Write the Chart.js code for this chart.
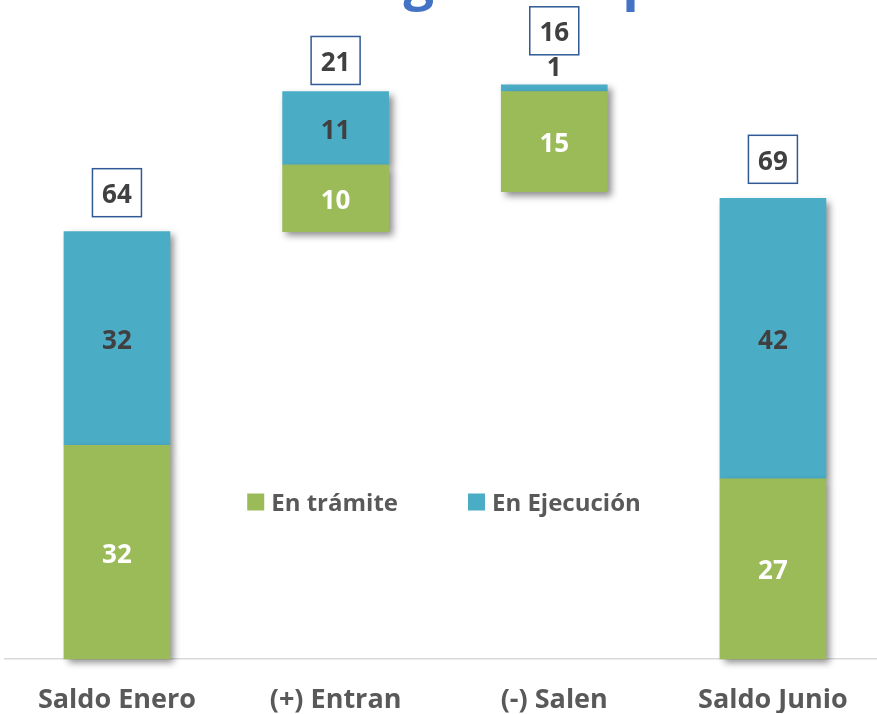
<!DOCTYPE html>
<html lang="es">
<head>
<meta charset="utf-8">
<title>Expedientes</title>
<script src="https://cdn.jsdelivr.net/npm/chart.js@4.4.1/dist/chart.umd.min.js"></script>
<style>
  html, body { margin: 0; padding: 0; background: #fff; overflow: hidden; }
</style>
</head>
<body>
<canvas id="chart" width="877" height="714"></canvas>
<script>
// --- DATA ---
const categories = ['Saldo Enero', '(+) Entran', '(-) Salen', 'Saldo Junio'];
const enTramite = [32, 10, 15, 27];
const enEjecucion = [32, 11, 1, 42];
const totals = [64, 21, 16, 69];
const bases = [0, 64, 70, 0]; // floating start of each column
const seriesNames = ['En trámite', 'En Ejecución'];
const titleText = 'Carga de Expedientes';

// --- STYLE ---
const GREEN = '#9BBB59', BLUE = '#4BACC6', DARK = '#404040', GREY = '#595959';
const FONT = "'Open Sans', 'DejaVu Sans', sans-serif";
const boxGap = [15, 7, 30, 15]; // space between column top and its total box
const TXT_NUDGE = 3; // canvas 'middle' sits digits a bit high

function segment(vals, offset) {
  return categories.map((c, i) => {
    const lo = bases[i] + (offset ? offset[i] : 0);
    return { x: i, y: [lo, lo + vals[i]] };
  });
}

// soft drop shadow under the columns
const barShadow = {
  id: 'barShadow',
  beforeDatasetsDraw(chart) {
    const c = chart.ctx;
    c.save();
    c.shadowColor = 'rgba(0,0,0,0.45)';
    c.shadowBlur = 7;
    c.shadowOffsetX = 4;
    c.shadowOffsetY = 4;
  },
  afterDatasetsDraw(chart) { chart.ctx.restore(); }
};

// values inside segments + total boxes on top
const barLabels = {
  id: 'barLabels',
  afterDatasetsDraw(chart) {
    const ctx = chart.ctx;
    ctx.save();
    ctx.font = `bold 26px ${FONT}`;
    ctx.textAlign = 'center';
    ctx.textBaseline = 'middle';
    const colTop = [];
    chart.data.datasets.forEach((ds, d) => {
      chart.getDatasetMeta(d).data.forEach((bar, i) => {
        const top = Math.min(bar.y, bar.base), bottom = Math.max(bar.y, bar.base);
        colTop[i] = colTop[i] === undefined ? top : Math.min(colTop[i], top);
        if (bottom - top >= 30) {
          ctx.fillStyle = ds.labelColor;
          ctx.fillText(ds.values[i], bar.x, (top + bottom) / 2 + TXT_NUDGE);
        } else {
          ctx.fillStyle = DARK;
          ctx.fillText(ds.values[i], bar.x, top - 16);
        }
      });
    });
    const meta = chart.getDatasetMeta(0);
    totals.forEach((t, i) => {
      const x = meta.data[i].x;
      const bw = 49, bh = 48;
      const by = colTop[i] - boxGap[i] - bh;
      ctx.fillStyle = '#fff';
      ctx.fillRect(x - bw / 2, by, bw, bh);
      ctx.strokeStyle = '#2F5A96';
      ctx.lineWidth = 1.5;
      ctx.strokeRect(x - bw / 2, by, bw, bh);
      ctx.fillStyle = DARK;
      ctx.fillText(t, x, by + bh / 2 + TXT_NUDGE);
    });
    ctx.restore();
  }
};

// legend sitting inside the plot + title cut at the top edge
const decor = {
  id: 'decor',
  afterDraw(chart) {
    const ctx = chart.ctx, area = chart.chartArea;
    ctx.save();
    ctx.font = `bold 24px ${FONT}`;
    ctx.textBaseline = 'middle';
    const sq = 17, gap = 7, spacing = 70;
    const items = chart.data.datasets.map(ds => ({ label: ds.label, color: ds.backgroundColor, w: ctx.measureText(ds.label).width }));
    const total = items.reduce((s, it) => s + sq + gap + it.w, 0) + spacing;
    let x = (area.left + area.right) / 2 + 3 - total / 2;
    const y = area.bottom - 157;
    items.forEach(it => {
      ctx.fillStyle = it.color;
      ctx.fillRect(x, y - sq / 2, sq, sq);
      ctx.fillStyle = GREY;
      ctx.fillText(it.label, x + sq + gap, y + 2);
      x += sq + gap + it.w + spacing;
    });

    ctx.font = `bold 54px ${FONT}`;
    ctx.fillStyle = '#4472C4';
    ctx.textAlign = 'left';
    ctx.textBaseline = 'alphabetic';
    ctx.fillText(titleText, 312, -1);
    ctx.restore();
  }
};

new Chart(document.getElementById('chart'), {
  type: 'bar',
  data: {
    datasets: [
      { label: seriesNames[0], values: enTramite, labelColor: '#FFFFFF', backgroundColor: GREEN,
        data: segment(enTramite), grouped: false, barThickness: 106, clip: false },
      { label: seriesNames[1], values: enEjecucion, labelColor: DARK, backgroundColor: BLUE,
        data: segment(enEjecucion, enTramite), grouped: false, barThickness: 106, clip: false }
    ]
  },
  options: {
    responsive: false,
    animation: false,
    devicePixelRatio: 1,
    layout: { padding: { left: 5, right: 0, top: 0, bottom: 1 } },
    plugins: { legend: { display: false }, tooltip: { enabled: false } },
    scales: {
      x: {
        type: 'linear',
        bounds: 'data',
        offset: false,
        min: -0.512,
        max: 3.476,
        grid: { display: false },
        border: { color: '#D9D9D9', width: 1.5 },
        afterBuildTicks: scale => { scale.ticks = categories.map((c, i) => ({ value: i })); },
        afterFit: scale => { scale.height = 54; },
        ticks: {
          autoSkip: false,
          maxRotation: 0,
          padding: 17,
          color: GREY,
          font: { family: FONT, size: 27, weight: 'bold' },
          callback: v => categories[v]
        }
      },
      y: { display: false, min: 0, max: 98.7 }
    }
  },
  plugins: [barShadow, barLabels, decor]
});
</script>
</body>
</html>
